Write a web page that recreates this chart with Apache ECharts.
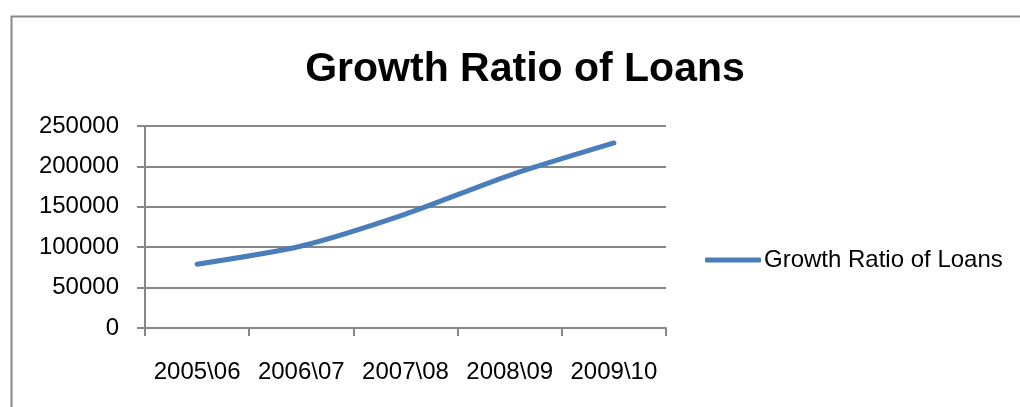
<!DOCTYPE html>
<html>
<head>
<meta charset="utf-8">
<script src="https://cdn.jsdelivr.net/npm/echarts@6/dist/echarts.min.js"></script>
<style>
html,body{margin:0;padding:0;background:#fff;}
#chart{width:1020px;height:407px;}
</style>
</head>
<body>
<div id="chart"></div>
<script>
const categories = ['2005\\06', '2006\\07', '2007\\08', '2008\\09', '2009\\10'];
const loans = [79000, 101500, 141000, 189000, 229000];
const yTicks = { min: 0, max: 250000, interval: 50000 };
const seriesName = 'Growth Ratio of Loans';
const titleText = 'Growth Ratio of Loans';

const chart = echarts.init(document.getElementById('chart'), null, { renderer: 'canvas' });
const font = 'Liberation Sans';
const gray = '#878787';
chart.setOption({
  animation: false,
  backgroundColor: '#ffffff',
  graphic: [{
    type: 'rect', left: 9, top: 14, silent: true,
    shape: { width: 1100, height: 500 },
    style: { fill: 'none', stroke: gray, lineWidth: 2 }
  }],
  title: {
    text: titleText,
    left: 520, top: 44, textAlign: 'center',
    textStyle: { fontFamily: font, fontWeight: 'bold', fontSize: 41, color: '#000' }
  },
  legend: {
    left: 700, top: 243,
    itemWidth: 56, itemHeight: 5, itemGap: 0,
    icon: 'roundRect',
    textStyle: { fontFamily: font, fontSize: 24, color: '#000', padding: [0, 0, 0, -2] },
    data: [seriesName]
  },
  grid: { left: 145, right: 354, top: 126, bottom: 79, containLabel: false },
  xAxis: {
    type: 'category',
    data: categories,
    boundaryGap: true,
    axisLine: { lineStyle: { color: gray, width: 2 } },
    axisTick: { show: true, length: 8, alignWithLabel: false, interval: 0, lineStyle: { color: gray, width: 2 } },
    axisLabel: { interval: 0, margin: 32, fontFamily: font, fontSize: 24, color: '#000' },
    splitLine: { show: false }
  },
  yAxis: {
    type: 'value',
    min: yTicks.min, max: yTicks.max, interval: yTicks.interval,
    axisLine: { show: true, lineStyle: { color: gray, width: 2 } },
    axisTick: { show: true, length: 8, lineStyle: { color: gray, width: 2 } },
    axisLabel: { margin: 26, fontFamily: font, fontSize: 24, color: '#000', formatter: v => String(v) },
    splitLine: { show: true, lineStyle: { color: gray, width: 2 } }
  },
  series: [{
    name: seriesName,
    type: 'line',
    data: loans,
    smooth: 0.25,
    showSymbol: false,
    symbol: 'none',
    itemStyle: { color: '#4a7ebb' },
    lineStyle: { color: '#4a7ebb', width: 5, cap: 'round', join: 'round' }
  }]
});
</script>
</body>
</html>
